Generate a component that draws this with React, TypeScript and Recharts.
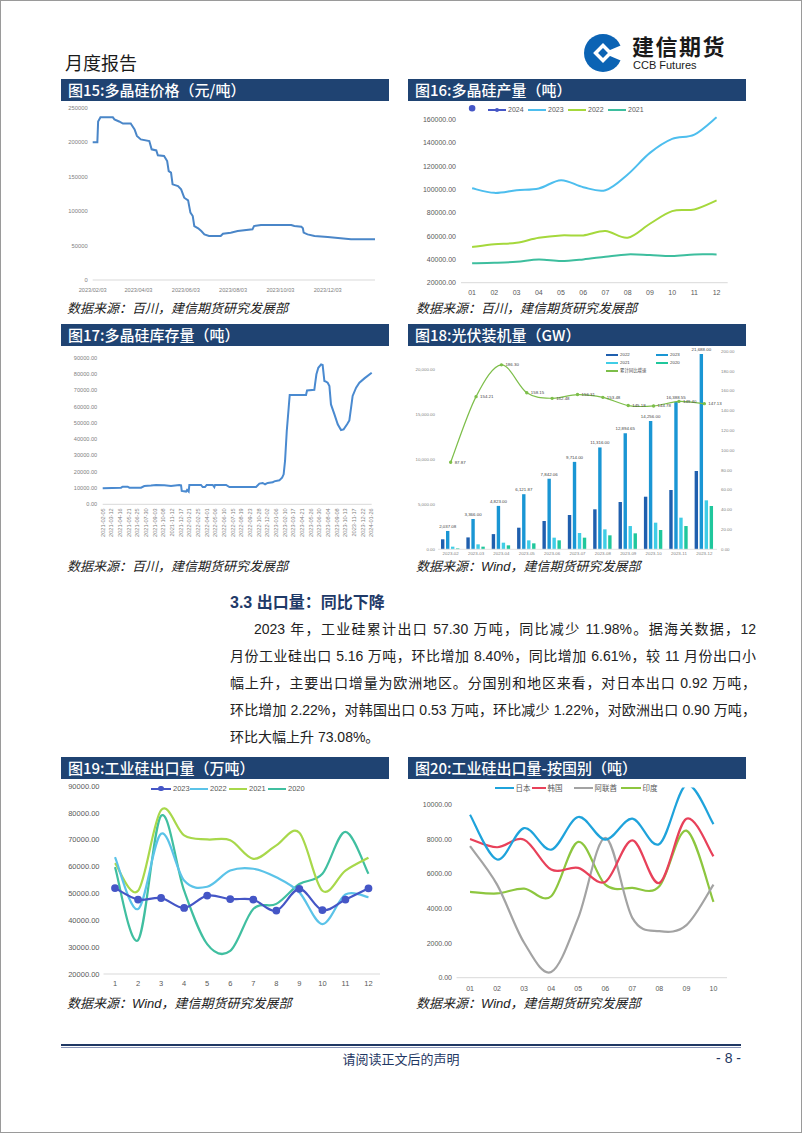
import React from 'react';
import { LineChart, Line, XAxis, YAxis, ComposedChart, Bar, LabelList } from 'recharts';

const NAVY = '#1F4372';
const CJK = "'Noto Sans CJK SC', sans-serif";
const LAT = "'Liberation Sans', 'Noto Sans CJK SC', sans-serif";

// ---------- 图15 多晶硅价格 ----------
const priceDays = [0, 6, 7, 10, 26, 28, 34, 39, 49, 54, 57, 62, 73, 76, 82, 84, 92, 96, 98, 101, 103, 110, 114, 118, 123, 126, 129, 131, 136, 140, 144, 150, 165, 168, 178, 187, 206, 208, 217, 256, 260, 269, 271, 272, 277, 286, 303, 333, 364];
const priceValues = [200000, 200000, 230000, 236000, 236000, 233000, 230000, 227000, 227000, 218500, 209000, 204000, 201600, 189600, 188000, 181000, 180000, 172600, 158000, 155700, 138800, 136300, 131500, 119400, 115600, 97700, 92800, 78300, 75000, 71000, 66200, 63800, 63800, 67200, 68700, 71000, 73500, 78300, 79800, 79800, 78300, 77400, 75000, 68700, 66200, 63800, 62400, 59000, 59000];
const priceTicks = [0, 59, 120, 181, 242, 303];
const priceTickLabels = ['2023/02/03', '2023/04/03', '2023/06/03', '2023/08/03', '2023/10/03', '2023/12/03'];
const priceYTicks = [0, 50000, 100000, 150000, 200000, 250000];

// ---------- 图16 多晶硅产量 ----------
const prodMonths = ['01', '02', '03', '04', '05', '06', '07', '08', '09', '10', '11', '12'];
const prod2024 = [169700, null, null, null, null, null, null, null, null, null, null, null];
const prod2023 = [101000, 97100, 99400, 100900, 108000, 102000, 99400, 112900, 131400, 143400, 147100, 162000];
const prod2022 = [50600, 52900, 54300, 58600, 60600, 60600, 64300, 58600, 70600, 81400, 82900, 90600];
const prod2021 = [36600, 37100, 38000, 40000, 38600, 40000, 42300, 44300, 43700, 42900, 44300, 44300];
const prodYTicks = [20000, 40000, 60000, 80000, 100000, 120000, 140000, 160000];

// ---------- 图17 多晶硅库存量 ----------
const invTickLabels = ['2021-02-05', '2021-03-12', '2021-04-16', '2021-05-21', '2021-06-25', '2021-07-30', '2021-09-03', '2021-10-08', '2021-11-12', '2021-12-17', '2022-01-21', '2022-02-25', '2022-04-01', '2022-05-06', '2022-06-10', '2022-07-15', '2022-08-19', '2022-09-23', '2022-10-28', '2022-12-02', '2023-01-06', '2023-02-10', '2023-03-17', '2023-04-21', '2023-05-26', '2023-06-30', '2023-08-04', '2023-09-08', '2023-10-13', '2023-11-17', '2023-12-22', '2024-01-26'];
const invWeeks = [0, 10.6, 11.5, 14.4, 15.4, 22.1, 24, 27.9, 30.8, 35.6, 39.4, 44.2, 45.2, 45.6, 48.1, 48.7, 49.6, 50, 56.7, 57.7, 59, 60, 63.5, 64.4, 64.8, 71.2, 73.1, 88.5, 90.4, 92.3, 93.7, 95.2, 98.1, 99, 101.9, 103.5, 104.4, 105.2, 106.2, 107.3, 107.9, 117.3, 117.9, 122.1, 122.5, 123.3, 124.4, 126, 126.9, 127.9, 128.8, 129.8, 130.8, 131.7, 133.7, 135.6, 137.5, 139, 141, 142.3, 143.3, 144.2, 146.2, 148.1, 151, 155.2];
const invValues = [9800, 10200, 10800, 10800, 10200, 10200, 11200, 11500, 11900, 11700, 11200, 11900, 11700, 8200, 7800, 8800, 7800, 11900, 11900, 10600, 10600, 11900, 11900, 10600, 11900, 11900, 10600, 10600, 12700, 13100, 12300, 13100, 13500, 14100, 14700, 16400, 18400, 26600, 45000, 59300, 67100, 67100, 69900, 70300, 73600, 79800, 83800, 85900, 85500, 75700, 75300, 74600, 72600, 61300, 55200, 49100, 45600, 46000, 49100, 51500, 59300, 66500, 71600, 74600, 77300, 80800];
const invYTicks = [0, 10000, 20000, 30000, 40000, 50000, 60000, 70000, 80000, 90000];

// ---------- 图18 光伏装机量 ----------
const pvMonths = ['2023-02', '2023-03', '2023-04', '2023-05', '2023-06', '2023-07', '2023-08', '2023-09', '2023-10', '2023-11', '2023-12'];
const pv2022 = [1111, 1321, 1688, 2400, 3144, 3811, 4444, 5255, 5844, 6589, 8700];
const pv2023 = [2037.08, 3366.0, 4823.0, 6121.87, 7842.06, 9714.0, 11316.0, 12894.65, 14256.0, 16388.55, 21688.0];
const pv2021 = [293, 552, 737, 996, 1293, 1811, 2218, 2585, 2959, 3515, 5440];
const pv2020 = [100, 293, 440, 663, 996, 1293, 1553, 1774, 2144, 2585, 4811];
const pvYoY = [87.87, 154.21, 186.3, 158.15, 152.48, 156.31, 153.48, 145.18, 144.78, 149.4, 147.13];
const pvLeftTicks = [0, 5000, 10000, 15000, 20000];
const pvRightTicks = [0, 20, 40, 60, 80, 100, 120, 140, 160, 180, 200];

// ---------- 图19 工业硅出口量 ----------
const expMonths = ['1', '2', '3', '4', '5', '6', '7', '8', '9', '10', '11', '12'];
const exp2023 = [52000, 47700, 48300, 44600, 49200, 47900, 47700, 43600, 51700, 43800, 47700, 51900];
const exp2022 = [63500, 44200, 72200, 54800, 52500, 58500, 59200, 56000, 50400, 38600, 49600, 48600];
const exp2021 = [61300, 51000, 81000, 71600, 70100, 69800, 62900, 67900, 72600, 51000, 58500, 63300];
const exp2020 = [59800, 32600, 78900, 51000, 31100, 28600, 44200, 46100, 53500, 57300, 72900, 57300];
const expYTicks = [20000, 30000, 40000, 50000, 60000, 70000, 80000, 90000];

// ---------- 图20 按国别 ----------
const ctyMonths = ['01', '02', '03', '04', '05', '06', '07', '08', '09', '10'];
const japan = [9420, 6830, 8650, 7400, 9290, 7980, 9190, 7730, 11150, 8880];
const korea = [8020, 7540, 7980, 6250, 6350, 5540, 7940, 5480, 9190, 7020];
const uae = [7600, 5380, 2020, 330, 3460, 8080, 3460, 2690, 3040, 5380];
const india = [4960, 4870, 5150, 4710, 7850, 5380, 5190, 5290, 8500, 4380];
const ctyYTicks = [0, 2000, 4000, 6000, 8000, 10000];

const bodyLines = [
  '2023 年，工业硅累计出口 57.30 万吨，同比减少 11.98%。据海关数据，12',
  '月份工业硅出口 5.16 万吨，环比增加 8.40%，同比增加 6.61%，较 11 月份出口小',
  '幅上升，主要出口增量为欧洲地区。分国别和地区来看，对日本出口 0.92 万吨，',
  '环比增加 2.22%，对韩国出口 0.53 万吨，环比减少 1.22%，对欧洲出口 0.90 万吨，',
  '环比大幅上升 73.08%。',
];

// Excel-like smoothed curve (Catmull-Rom as cubic Bezier)
const excelCurve: any = (context: any) => {
  let pts: number[][] = [];
  return {
    areaStart() {},
    areaEnd() {},
    lineStart() { pts = []; },
    lineEnd() {
      const n = pts.length;
      if (n === 0) return;
      context.moveTo(pts[0][0], pts[0][1]);
      const t = 1 / 6;
      for (let i = 0; i < n - 1; i++) {
        const p0 = pts[i - 1] || pts[i];
        const p1 = pts[i];
        const p2 = pts[i + 1];
        const p3 = pts[i + 2] || p2;
        context.bezierCurveTo(
          p1[0] + (p2[0] - p0[0]) * t, p1[1] + (p2[1] - p0[1]) * t,
          p2[0] - (p3[0] - p1[0]) * t, p2[1] - (p3[1] - p1[1]) * t,
          p2[0], p2[1]
        );
      }
    },
    point(x: number, y: number) { pts.push([+x, +y]); },
  };
};

const fmt2 = (v: number) => Number(v).toFixed(2);
const fmtComma = (v: number) => Number(v).toLocaleString('en-US', { minimumFractionDigits: 2, maximumFractionDigits: 2 });

const abs = (x: number, y: number, w?: number, h?: number): React.CSSProperties => ({ position: 'absolute', left: x, top: y, width: w, height: h });

const TitleBar = ({ x, y, w, text }: { x: number; y: number; w: number; text: string }) => (
  <div style={{ ...abs(x, y, w, 22), background: NAVY, color: '#fff', fontSize: 15, lineHeight: '22px', paddingLeft: 7, boxSizing: 'border-box', fontFamily: CJK, fontWeight: 500, whiteSpace: 'nowrap' }}>{text}</div>
);

const Source = ({ x, y, text }: { x: number; y: number; text: string }) => (
  <div style={{ ...abs(x, y), fontSize: 13, lineHeight: '16px', fontStyle: 'italic', fontFamily: LAT, color: '#222', whiteSpace: 'nowrap' }}>{text}</div>
);

const Leg = ({ x, y, w, color, label, fs, marker = 0, th = 2, gap = 2, tc = '#595959' }: any) => (
  <>
    <div style={{ ...abs(x, y - th / 2, w, th), background: color }} />
    {marker > 0 && <div style={{ ...abs(x + w / 2 - marker, y - marker, marker * 2, marker * 2), borderRadius: '50%', background: color }} />}
    <div style={{ ...abs(x + w + gap, y - fs * 0.6), fontSize: fs, lineHeight: `${fs * 1.2}px`, color: tc, fontFamily: LAT, whiteSpace: 'nowrap' }}>{label}</div>
  </>
);

const InvTick = (props: any) => {
  const { x, y, payload } = props;
  const idx = Math.round(payload.value / 5);
  return (
    <text transform={`translate(${x},${y}) rotate(-90)`} textAnchor="end" dominantBaseline="central" fontSize={5.6} fill="#7f7f7f" fontFamily={LAT}>
      {invTickLabels[idx]}
    </text>
  );
};

export default function App() {
  const priceData = priceDays.map((d, i) => ({ d, v: priceValues[i] }));
  const prodData = prodMonths.map((m, i) => ({ m, a: prod2024[i], b: prod2023[i], c: prod2022[i], d: prod2021[i] }));
  const invData = invWeeks.map((w, i) => ({ w, v: invValues[i] }));
  const invTicks = invTickLabels.map((_, i) => i * 5);
  const pvData = pvMonths.map((m, i) => ({ m, a: pv2022[i], b: pv2023[i], c: pv2021[i], d: pv2020[i], y: pvYoY[i] }));
  const expData = expMonths.map((m, i) => ({ m, a: exp2023[i], b: exp2022[i], c: exp2021[i], d: exp2020[i] }));
  const ctyData = ctyMonths.map((m, i) => ({ m, jp: japan[i], kr: korea[i], ae: uae[i], in: india[i] }));

  const grayTick = (fs: number) => ({ fontSize: fs, fill: '#7f7f7f', fontFamily: LAT });
  const darkTick = (fs: number) => ({ fontSize: fs, fill: '#595959', fontFamily: LAT });

  return (
    <div style={{ position: 'absolute', left: 0, top: 0, width: 802, height: 1133, background: '#fff', border: '1px solid #9a9a9a', boxSizing: 'border-box', overflow: 'hidden', fontFamily: CJK }}>
      {/* Header */}
      <div style={{ ...abs(64, 51), fontSize: 18, lineHeight: '20px', color: '#1a1a1a', fontFamily: CJK }}>月度报告</div>
      <svg style={abs(582, 32, 40, 40)} width={40} height={40} viewBox="0 0 40 40">
        <circle cx={20} cy={20} r={19} fill="#0B63B4" />
        <rect x={13} y={13} width={14} height={14} fill="#fff" transform="rotate(45 20 20)" />
        <path d="M20 20 L41 11 L41 29 Z" fill="#fff" />
        <rect x={16.5} y={16.5} width={7} height={7} fill="#0B63B4" transform="rotate(45 20 20)" />
      </svg>
      <div style={{ ...abs(631, 32), fontSize: 22, lineHeight: '24px', fontWeight: 700, color: '#1a1a1a', fontFamily: CJK, letterSpacing: 1.5 }}>建信期货</div>
      <div style={{ ...abs(632, 58), fontSize: 11, lineHeight: '12px', color: '#1a1a1a', fontFamily: LAT }}>CCB Futures</div>

      <TitleBar x={60} y={78} w={328} text="图15:多晶硅价格（元/吨）" />
      <TitleBar x={407} y={78} w={338} text="图16:多晶硅产量（吨）" />
      <TitleBar x={60} y={323} w={328} text="图17:多晶硅库存量（吨）" />
      <TitleBar x={407} y={323} w={338} text="图18:光伏装机量（GW）" />
      <TitleBar x={60} y={756} w={328} text="图19:工业硅出口量（万吨）" />
      <TitleBar x={407} y={756} w={338} text="图20:工业硅出口量-按国别（吨）" />

      {/* Chart 15 */}
      <div style={abs(60, 100, 330, 200)}>
        <LineChart width={330} height={200} data={priceData} margin={{ top: 6.7, right: 16, bottom: 0, left: 0 }}>
          <XAxis dataKey="d" type="number" domain={[0, 364]} ticks={priceTicks} interval={0} tickFormatter={(v: number) => priceTickLabels[priceTicks.indexOf(v)]} height={21} tick={grayTick(5.6)} tickLine={false} tickSize={0} tickMargin={8} axisLine={{ stroke: '#d9d9d9' }} />
          <YAxis type="number" domain={[0, 250000]} ticks={priceYTicks} interval={0} width={31.7} tick={grayTick(5.8)} tickLine={false} tickSize={0} tickMargin={5} axisLine={false} />
          <Line dataKey="v" type="linear" stroke="#4A86C8" strokeWidth={2} dot={false} isAnimationActive={false} />
        </LineChart>
      </div>

      {/* Chart 16 */}
      <div style={abs(407, 100, 338, 200)}>
        <LineChart width={338} height={200} data={prodData} margin={{ top: 1.1, right: 18.3, bottom: 0, left: 0 }}>
          <XAxis dataKey="m" scale="band" interval={0} height={18.3} tick={darkTick(7)} tickLine={false} tickSize={0} tickMargin={7.5} axisLine={{ stroke: '#d9d9d9' }} />
          <YAxis type="number" domain={[20000, 175000]} ticks={prodYTicks} interval={0} width={53} tickFormatter={fmt2} tick={darkTick(7)} tickLine={false} tickSize={0} tickMargin={5} axisLine={false} />
          <Line dataKey="d" type={excelCurve} stroke="#3DBE9E" strokeWidth={2} dot={false} isAnimationActive={false} />
          <Line dataKey="c" type={excelCurve} stroke="#A5D83C" strokeWidth={2} dot={false} isAnimationActive={false} />
          <Line dataKey="b" type={excelCurve} stroke="#4DBEEE" strokeWidth={2} dot={false} isAnimationActive={false} />
          <Line dataKey="a" type={excelCurve} stroke="#4556C6" strokeWidth={2} dot={{ r: 2.3, fill: '#4556C6', stroke: '#4556C6' }} isAnimationActive={false} />
        </LineChart>
      </div>
      <Leg x={487} y={109.3} w={18} color="#4556C6" label="2024" fs={7} marker={2.2} />
      <Leg x={527} y={109.3} w={18} color="#4DBEEE" label="2023" fs={7} />
      <Leg x={567} y={109.3} w={18} color="#A5D83C" label="2022" fs={7} />
      <Leg x={607} y={109.3} w={18} color="#3DBE9E" label="2021" fs={7} />

      <Source x={66} y={300} text="数据来源：百川，建信期货研究发展部" />
      <Source x={415} y={300} text="数据来源：百川，建信期货研究发展部" />

      {/* Chart 17 */}
      <div style={abs(60, 345, 330, 210)}>
        <LineChart width={330} height={210} data={invData} margin={{ top: 11.7, right: 19.3, bottom: 0, left: 0 }}>
          <XAxis dataKey="w" type="number" domain={[0, 155]} ticks={invTicks} interval={0} height={51.7} tick={<InvTick />} tickLine={false} tickSize={0} tickMargin={4} axisLine={{ stroke: '#d9d9d9' }} />
          <YAxis type="number" domain={[0, 90000]} ticks={invYTicks} interval={0} width={41.7} tickFormatter={fmt2} tick={grayTick(5.6)} tickLine={false} tickSize={0} tickMargin={5.5} axisLine={false} />
          <Line dataKey="v" type="linear" stroke="#4A8AD0" strokeWidth={2} dot={false} isAnimationActive={false} />
        </LineChart>
      </div>

      {/* Chart 18 */}
      <div style={abs(407, 345, 338, 215)}>
        <ComposedChart width={338} height={215} data={pvData} margin={{ top: 5.3, right: 0, bottom: 0, left: 0 }} barGap={1.6} barSize={3.4}>
          <XAxis dataKey="m" interval={0} height={11.7} tick={grayTick(4.4)} tickLine={false} tickSize={0} tickMargin={3} axisLine={{ stroke: '#e3e3e3' }} />
          <YAxis yAxisId="l" type="number" domain={[0, 22000]} ticks={pvLeftTicks} interval={0} width={30} tickFormatter={fmtComma} tick={grayTick(4.4)} tickLine={false} tickSize={0} tickMargin={3} axisLine={false} />
          <YAxis yAxisId="r" orientation="right" type="number" domain={[0, 200]} ticks={pvRightTicks} interval={0} width={29} tickFormatter={fmt2} tick={grayTick(4.4)} tickLine={false} tickSize={0} tickMargin={4} axisLine={false} />
          <Bar yAxisId="l" dataKey="a" fill="#1F5FAE" isAnimationActive={false} />
          <Bar yAxisId="l" dataKey="b" fill="#1A96D4" isAnimationActive={false}>
            <LabelList dataKey="b" position="top" offset={3} formatter={(v: any) => fmtComma(v)} style={{ fontSize: 4.4, fill: '#444', fontFamily: LAT }} />
          </Bar>
          <Bar yAxisId="l" dataKey="c" fill="#40CDE6" isAnimationActive={false} />
          <Bar yAxisId="l" dataKey="d" fill="#1FC79C" isAnimationActive={false} />
          <Line yAxisId="r" dataKey="y" type={excelCurve} stroke="#7DBE4A" strokeWidth={1.2} dot={{ r: 1.1, fill: '#7DBE4A', stroke: '#7DBE4A' }} isAnimationActive={false}>
            <LabelList dataKey="y" content={(p: any) => (
              <text x={p.x + 4} y={p.y + 1.5} fontSize={4.4} fill="#444" fontFamily={LAT}>{fmt2(p.value)}</text>
            )} />
          </Line>
        </ComposedChart>
      </div>
      <Leg x={605} y={354} w={12} th={2.6} color="#1F5FAE" label="2022" fs={4.4} tc="#444" />
      <Leg x={655} y={354} w={12} th={2.6} color="#1A96D4" label="2023" fs={4.4} tc="#444" />
      <Leg x={605} y={362} w={12} th={2.6} color="#40CDE6" label="2021" fs={4.4} tc="#444" />
      <Leg x={655} y={362} w={12} th={2.6} color="#1FC79C" label="2020" fs={4.4} tc="#444" />
      <Leg x={605} y={370} w={12} th={1.2} color="#7DBE4A" label="累计同比增速" fs={4.4} marker={1.1} tc="#444" />

      <Source x={66} y={558} text="数据来源：百川，建信期货研究发展部" />
      <Source x={415} y={558} text="数据来源：Wind，建信期货研究发展部" />

      {/* Section text */}
      <div style={{ ...abs(229, 592), fontSize: 16, lineHeight: '20px', fontWeight: 700, color: '#1F3A68', fontFamily: LAT, whiteSpace: 'nowrap' }}>3.3 出口量：同比下降</div>
      {bodyLines.map((t, i) => (
        <div key={i} style={{ ...abs(229, 619 + i * 27, 526, 18), paddingLeft: i === 0 ? 24 : 0, boxSizing: 'border-box', fontSize: 14, lineHeight: '18px', color: '#222', fontFamily: LAT, textAlign: 'justify', textAlignLast: i < 4 ? 'justify' : 'left', whiteSpace: 'nowrap', overflow: 'visible' } as React.CSSProperties}>{t}</div>
      ))}

      {/* Chart 19 */}
      <div style={abs(60, 778, 330, 215)}>
        <LineChart width={330} height={215} data={expData} margin={{ top: 7, right: 11, bottom: 0, left: 0 }}>
          <XAxis dataKey="m" scale="band" interval={0} height={20} tick={darkTick(7.5)} tickLine={false} tickSize={0} tickMargin={6.5} axisLine={{ stroke: '#d9d9d9' }} />
          <YAxis type="number" domain={[20000, 90000]} ticks={expYTicks} interval={0} width={42.5} tickFormatter={fmt2} tick={darkTick(7.5)} tickLine={false} tickSize={0} tickMargin={4} axisLine={false} />
          <Line dataKey="d" type={excelCurve} stroke="#40BFA0" strokeWidth={2.2} dot={false} isAnimationActive={false} />
          <Line dataKey="c" type={excelCurve} stroke="#A8D84B" strokeWidth={2.2} dot={false} isAnimationActive={false} />
          <Line dataKey="b" type={excelCurve} stroke="#5BC3E8" strokeWidth={2.2} dot={false} isAnimationActive={false} />
          <Line dataKey="a" type={excelCurve} stroke="#4556C6" strokeWidth={2.2} dot={{ r: 2.8, fill: '#4556C6', stroke: '#4556C6' }} isAnimationActive={false} />
        </LineChart>
      </div>
      <Leg x={150} y={787.7} w={20} th={2.2} color="#4556C6" label="2023" fs={7.5} marker={2.6} />
      <Leg x={189} y={787.7} w={18} th={2.2} color="#5BC3E8" label="2022" fs={7.5} />
      <Leg x={228} y={787.7} w={18} th={2.2} color="#A8D84B" label="2021" fs={7.5} />
      <Leg x={267} y={787.7} w={18} th={2.2} color="#40BFA0" label="2020" fs={7.5} />

      {/* Chart 20 */}
      <div style={abs(407, 778, 338, 215)}>
        <LineChart width={338} height={215} data={ctyData} margin={{ top: 8.4, right: 19, bottom: 0, left: 0 }}>
          <XAxis dataKey="m" scale="band" interval={0} height={16.3} tick={darkTick(7)} tickLine={false} tickSize={0} tickMargin={8} axisLine={{ stroke: '#d9d9d9' }} />
          <YAxis type="number" domain={[0, 11000]} allowDataOverflow ticks={ctyYTicks} interval={0} width={48.5} tickFormatter={fmt2} tick={darkTick(7)} tickLine={false} tickSize={0} tickMargin={4.5} axisLine={false} />
          <Line dataKey="in" type={excelCurve} stroke="#8DC63F" strokeWidth={2.2} dot={false} isAnimationActive={false} />
          <Line dataKey="ae" type={excelCurve} stroke="#A3A3A3" strokeWidth={2.2} dot={false} isAnimationActive={false} />
          <Line dataKey="kr" type={excelCurve} stroke="#E8415A" strokeWidth={2.2} dot={false} isAnimationActive={false} />
          <Line dataKey="jp" type={excelCurve} stroke="#1FA3DB" strokeWidth={2.2} dot={false} isAnimationActive={false} />
        </LineChart>
      </div>
      <Leg x={494} y={787} w={19} th={2.4} color="#1FA3DB" label="日本" fs={7.5} gap={1.5} />
      <Leg x={531} y={787} w={14} th={2.4} color="#E8415A" label="韩国" fs={7.5} gap={1.5} />
      <Leg x={573} y={787} w={19} th={2.4} color="#A3A3A3" label="阿联酋" fs={7.5} gap={1.5} />
      <Leg x={620} y={787} w={20} th={2.4} color="#8DC63F" label="印度" fs={7.5} gap={1.5} />

      <Source x={66} y={995} text="数据来源：Wind，建信期货研究发展部" />
      <Source x={415} y={995} text="数据来源：Wind，建信期货研究发展部" />

      {/* Footer */}
      <div style={{ ...abs(60, 1043, 680, 2), background: '#1F3864' }} />
      <div style={{ ...abs(60, 1046, 680, 1), background: '#8a96b8' }} />
      <div style={{ ...abs(300, 1050, 200), textAlign: 'center', fontSize: 13, lineHeight: '16px', color: '#1F3864', fontFamily: CJK }}>请阅读正文后的声明</div>
      <div style={{ ...abs(690, 1049, 50), textAlign: 'right', fontSize: 14, lineHeight: '17px', color: '#1F3864', fontFamily: LAT }}>- 8 -</div>
    </div>
  );
}
